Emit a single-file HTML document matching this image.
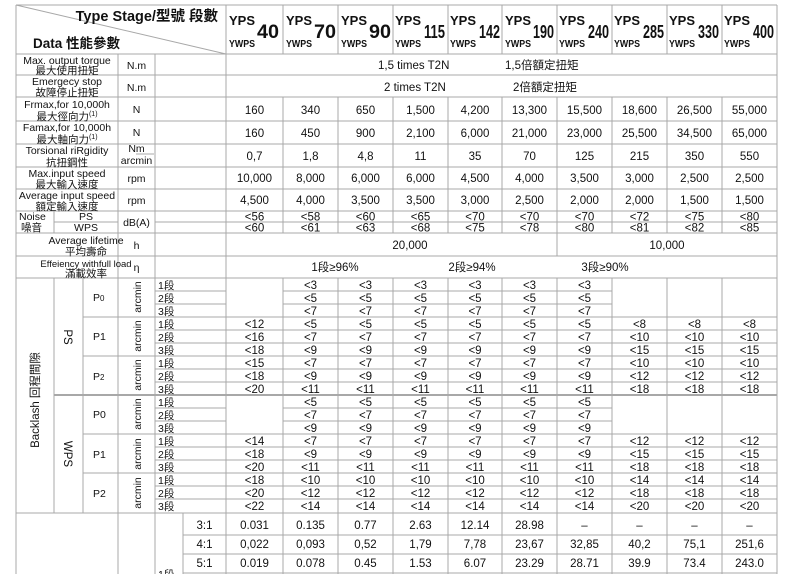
<!DOCTYPE html>
<html><head><meta charset="utf-8"><style>
html,body{margin:0;padding:0;background:#fff;width:800px;height:574px;overflow:hidden}
svg{display:block}
text{font-family:"Liberation Sans","Noto Sans CJK TC",sans-serif;fill:#111}
.d{font-size:11.5px;text-anchor:middle}
.l{font-size:10.5px;text-anchor:middle}
.s{font-size:10.5px}
</style></head><body>
<svg width="800" height="574" viewBox="0 0 800 574" xmlns="http://www.w3.org/2000/svg">
<g stroke="#a8a8a8" stroke-width="1" fill="none">
<line x1="16" y1="5" x2="16" y2="574"/>
<line x1="16" y1="5" x2="777" y2="5"/>
<line x1="777" y1="5" x2="777" y2="574"/>
<line x1="226" y1="5" x2="226" y2="574"/>
<line x1="118" y1="54" x2="118" y2="574"/>
<line x1="155" y1="54" x2="155" y2="574"/>
<line x1="16" y1="5" x2="226" y2="54"/>
<line x1="16" y1="54" x2="777" y2="54"/>
<line x1="16" y1="75" x2="777" y2="75"/>
<line x1="16" y1="97" x2="777" y2="97"/>
<line x1="16" y1="121" x2="777" y2="121"/>
<line x1="16" y1="144" x2="777" y2="144"/>
<line x1="16" y1="167" x2="777" y2="167"/>
<line x1="16" y1="189" x2="777" y2="189"/>
<line x1="16" y1="211" x2="777" y2="211"/>
<line x1="54" y1="222" x2="118" y2="222"/>
<line x1="155" y1="222" x2="777" y2="222"/>
<line x1="16" y1="233" x2="777" y2="233"/>
<line x1="16" y1="256" x2="777" y2="256"/>
<line x1="16" y1="278" x2="777" y2="278"/>
<line x1="54" y1="211" x2="54" y2="233"/>
<line x1="557" y1="233" x2="557" y2="256"/>
<path d="M283 5V54M338 5V54M393 5V54M448 5V54M502 5V54M557 5V54M612 5V54M667 5V54M722 5V54"/>
<path d="M283 97V233M338 97V233M393 97V233M448 97V233M502 97V233M557 97V233M612 97V233M667 97V233M722 97V233"/>
<path d="M283 278V574M338 278V574M393 278V574M448 278V574M502 278V574M557 278V574M612 278V574M667 278V574M722 278V574"/>
<line x1="136" y1="154" x2="154" y2="154"/>
<line x1="54" y1="278" x2="54" y2="513"/>
<line x1="83" y1="278" x2="83" y2="513"/>
<path d="M155 291H226M283 291H612M155 304H226M283 304H612"/>
<path d="M83 317H777M155 330H777M155 343H777M83 356H777M155 369H777M155 382H777"/>
<path d="M155 408H226M283 408H612M155 421H226M283 421H612"/>
<path d="M83 434H777M155 447H777M155 460H777M83 473H777M155 486H777M155 499H777"/>
<line x1="16" y1="513" x2="777" y2="513"/>
<line x1="183" y1="513" x2="183" y2="574"/>
<path d="M183 535H777M183 554H777M183 573H777"/>
</g>
<line x1="54" y1="395" x2="777" y2="395" stroke="#a8a8a8" stroke-width="2"/>

<text x="218" y="21" style="font-size:14.5px;font-weight:bold" text-anchor="end">Type Stage/型號 段數</text>
<text x="33" y="48" style="font-size:13.5px;font-weight:bold">Data 性能參數</text>
<g font-weight="bold">
<text x="229" y="25" style="font-size:13px">YPS</text><text x="229" y="47" style="font-size:10.5px" textLength="26" lengthAdjust="spacingAndGlyphs">YWPS</text><text x="257" y="38" style="font-size:19px" textLength="22" lengthAdjust="spacingAndGlyphs">40</text>
<text x="286" y="25" style="font-size:13px">YPS</text><text x="286" y="47" style="font-size:10.5px" textLength="26" lengthAdjust="spacingAndGlyphs">YWPS</text><text x="314" y="38" style="font-size:19px" textLength="22" lengthAdjust="spacingAndGlyphs">70</text>
<text x="341" y="25" style="font-size:13px">YPS</text><text x="341" y="47" style="font-size:10.5px" textLength="26" lengthAdjust="spacingAndGlyphs">YWPS</text><text x="369" y="38" style="font-size:19px" textLength="22" lengthAdjust="spacingAndGlyphs">90</text>
<text x="395" y="25" style="font-size:13px">YPS</text><text x="395" y="47" style="font-size:10.5px" textLength="26" lengthAdjust="spacingAndGlyphs">YWPS</text><text x="424" y="38" style="font-size:18px" textLength="21" lengthAdjust="spacingAndGlyphs">115</text>
<text x="450" y="25" style="font-size:13px">YPS</text><text x="450" y="47" style="font-size:10.5px" textLength="26" lengthAdjust="spacingAndGlyphs">YWPS</text><text x="479" y="38" style="font-size:18px" textLength="21" lengthAdjust="spacingAndGlyphs">142</text>
<text x="505" y="25" style="font-size:13px">YPS</text><text x="505" y="47" style="font-size:10.5px" textLength="26" lengthAdjust="spacingAndGlyphs">YWPS</text><text x="533" y="38" style="font-size:18px" textLength="21" lengthAdjust="spacingAndGlyphs">190</text>
<text x="559" y="25" style="font-size:13px">YPS</text><text x="559" y="47" style="font-size:10.5px" textLength="26" lengthAdjust="spacingAndGlyphs">YWPS</text><text x="588" y="38" style="font-size:18px" textLength="21" lengthAdjust="spacingAndGlyphs">240</text>
<text x="614" y="25" style="font-size:13px">YPS</text><text x="614" y="47" style="font-size:10.5px" textLength="26" lengthAdjust="spacingAndGlyphs">YWPS</text><text x="643" y="38" style="font-size:18px" textLength="21" lengthAdjust="spacingAndGlyphs">285</text>
<text x="669" y="25" style="font-size:13px">YPS</text><text x="669" y="47" style="font-size:10.5px" textLength="26" lengthAdjust="spacingAndGlyphs">YWPS</text><text x="698" y="38" style="font-size:18px" textLength="21" lengthAdjust="spacingAndGlyphs">330</text>
<text x="724" y="25" style="font-size:13px">YPS</text><text x="724" y="47" style="font-size:10.5px" textLength="26" lengthAdjust="spacingAndGlyphs">YWPS</text><text x="753" y="38" style="font-size:18px" textLength="21" lengthAdjust="spacingAndGlyphs">400</text>
</g>

<text class="l" x="67" y="64">Max. output torque</text><text class="l" x="67" y="74">最大使用扭矩</text>
<text class="l" x="67" y="85">Emergecy stop</text><text class="l" x="67" y="96">故障停止扭矩</text>
<text class="l" x="67" y="108">Frmax,for 10,000h</text><text class="l" x="67" y="120">最大徑向力<tspan font-size="7" dy="-4">(1)</tspan></text>
<text class="l" x="67" y="131">Famax,for 10,000h</text><text class="l" x="67" y="143">最大軸向力<tspan font-size="7" dy="-4">(1)</tspan></text>
<text class="l" x="67" y="154">Torsional riRgidity</text><text class="l" x="67" y="166">抗扭鋼性</text>
<text class="l" x="67" y="177">Max.input speed</text><text class="l" x="67" y="188">最大輸入速度</text>
<text class="l" x="67" y="199">Average input speed</text><text class="l" x="67" y="210">額定輸入速度</text>
<text class="s" x="19" y="220">Noise</text><text class="s" x="21" y="231">噪音</text>
<text class="l" x="86" y="220">PS</text><text class="l" x="86" y="231">WPS</text>
<text class="l" x="86" y="244">Average lifetime</text><text class="l" x="86" y="255">平均壽命</text>
<text class="l" x="86" y="267" style="font-size:9.5px">Effeiency withfull load</text><text class="l" x="86" y="277">滿載效率</text>

<text class="l" x="136.5" y="69">N.m</text>
<text class="l" x="136.5" y="91">N.m</text>
<text class="l" x="136.5" y="113">N</text>
<text class="l" x="136.5" y="136">N</text>
<text class="l" x="136.5" y="152">Nm</text><text class="l" x="136.5" y="164">arcmin</text>
<text class="l" x="136.5" y="182">rpm</text>
<text class="l" x="136.5" y="204">rpm</text>
<text class="l" x="136.5" y="226">dB(A)</text>
<text class="l" x="136.5" y="249">h</text>
<text class="l" x="136.5" y="271">η</text>

<text x="378" y="69" style="font-size:11.5px">1,5 times T2N</text><text x="505" y="69" style="font-size:11.5px">1,5倍額定扭矩</text>
<text x="384" y="91" style="font-size:11.5px">2 times T2N</text><text x="513" y="91" style="font-size:11.5px">2倍額定扭矩</text>
<text class="d" x="410" y="249">20,000</text><text class="d" x="667" y="249">10,000</text>
<text class="d" x="335" y="271">1段≥96%</text><text class="d" x="472" y="271">2段≥94%</text><text class="d" x="605" y="271">3段≥90%</text>

<g>
<text class="d" x="254.5" y="114">160</text><text class="d" x="310.5" y="114">340</text><text class="d" x="365.5" y="114">650</text><text class="d" x="420.5" y="114">1,500</text><text class="d" x="475" y="114">4,200</text><text class="d" x="529.5" y="114">13,300</text><text class="d" x="584.5" y="114">15,500</text><text class="d" x="639.5" y="114">18,600</text><text class="d" x="694.5" y="114">26,500</text><text class="d" x="749.5" y="114">55,000</text>
<text class="d" x="254.5" y="137">160</text><text class="d" x="310.5" y="137">450</text><text class="d" x="365.5" y="137">900</text><text class="d" x="420.5" y="137">2,100</text><text class="d" x="475" y="137">6,000</text><text class="d" x="529.5" y="137">21,000</text><text class="d" x="584.5" y="137">23,000</text><text class="d" x="639.5" y="137">25,500</text><text class="d" x="694.5" y="137">34,500</text><text class="d" x="749.5" y="137">65,000</text>
<text class="d" x="254.5" y="160">0,7</text><text class="d" x="310.5" y="160">1,8</text><text class="d" x="365.5" y="160">4,8</text><text class="d" x="420.5" y="160">11</text><text class="d" x="475" y="160">35</text><text class="d" x="529.5" y="160">70</text><text class="d" x="584.5" y="160">125</text><text class="d" x="639.5" y="160">215</text><text class="d" x="694.5" y="160">350</text><text class="d" x="749.5" y="160">550</text>
<text class="d" x="254.5" y="182">10,000</text><text class="d" x="310.5" y="182">8,000</text><text class="d" x="365.5" y="182">6,000</text><text class="d" x="420.5" y="182">6,000</text><text class="d" x="475" y="182">4,500</text><text class="d" x="529.5" y="182">4,000</text><text class="d" x="584.5" y="182">3,500</text><text class="d" x="639.5" y="182">3,000</text><text class="d" x="694.5" y="182">2,500</text><text class="d" x="749.5" y="182">2,500</text>
<text class="d" x="254.5" y="204">4,500</text><text class="d" x="310.5" y="204">4,000</text><text class="d" x="365.5" y="204">3,500</text><text class="d" x="420.5" y="204">3,500</text><text class="d" x="475" y="204">3,000</text><text class="d" x="529.5" y="204">2,500</text><text class="d" x="584.5" y="204">2,000</text><text class="d" x="639.5" y="204">2,000</text><text class="d" x="694.5" y="204">1,500</text><text class="d" x="749.5" y="204">1,500</text>
<text class="d" x="254.5" y="220.5">&lt;56</text><text class="d" x="310.5" y="220.5">&lt;58</text><text class="d" x="365.5" y="220.5">&lt;60</text><text class="d" x="420.5" y="220.5">&lt;65</text><text class="d" x="475" y="220.5">&lt;70</text><text class="d" x="529.5" y="220.5">&lt;70</text><text class="d" x="584.5" y="220.5">&lt;70</text><text class="d" x="639.5" y="220.5">&lt;72</text><text class="d" x="694.5" y="220.5">&lt;75</text><text class="d" x="749.5" y="220.5">&lt;80</text>
<text class="d" x="254.5" y="231.5">&lt;60</text><text class="d" x="310.5" y="231.5">&lt;61</text><text class="d" x="365.5" y="231.5">&lt;63</text><text class="d" x="420.5" y="231.5">&lt;68</text><text class="d" x="475" y="231.5">&lt;75</text><text class="d" x="529.5" y="231.5">&lt;78</text><text class="d" x="584.5" y="231.5">&lt;80</text><text class="d" x="639.5" y="231.5">&lt;81</text><text class="d" x="694.5" y="231.5">&lt;82</text><text class="d" x="749.5" y="231.5">&lt;85</text>
</g>

<text class="l" style="font-size:11.5px" transform="translate(39,400) rotate(-90)">Backlash 回程間隙</text>
<text class="l" style="font-size:11.5px" transform="translate(64,337) rotate(90)">PS</text>
<text class="l" style="font-size:11.5px" transform="translate(64,454) rotate(90)">WPS</text>
<text class="s" x="93" y="301">P<tspan font-size="8">0</tspan></text>
<text class="s" x="93" y="340">P1</text>
<text class="s" x="93" y="380">P<tspan font-size="8">2</tspan></text>
<text class="s" x="93" y="418">P0</text>
<text class="s" x="93" y="458">P1</text>
<text class="s" x="93" y="497">P2</text>
<text class="l" transform="translate(141,297) rotate(-90)">arcmin</text>
<text class="l" transform="translate(141,336) rotate(-90)">arcmin</text>
<text class="l" transform="translate(141,375) rotate(-90)">arcmin</text>
<text class="l" transform="translate(141,414) rotate(-90)">arcmin</text>
<text class="l" transform="translate(141,454) rotate(-90)">arcmin</text>
<text class="l" transform="translate(141,493) rotate(-90)">arcmin</text>
<g>
<text class="s" x="158" y="289">1段</text><text class="s" x="158" y="302">2段</text><text class="s" x="158" y="315">3段</text>
<text class="s" x="158" y="328">1段</text><text class="s" x="158" y="341">2段</text><text class="s" x="158" y="354">3段</text>
<text class="s" x="158" y="367">1段</text><text class="s" x="158" y="380">2段</text><text class="s" x="158" y="393">3段</text>
<text class="s" x="158" y="406">1段</text><text class="s" x="158" y="419">2段</text><text class="s" x="158" y="432">3段</text>
<text class="s" x="158" y="445">1段</text><text class="s" x="158" y="458">2段</text><text class="s" x="158" y="471">3段</text>
<text class="s" x="158" y="484">1段</text><text class="s" x="158" y="497">2段</text><text class="s" x="158" y="510">3段</text>
</g>

<g>
<text class="d" x="310.5" y="289">&lt;3</text><text class="d" x="365.5" y="289">&lt;3</text><text class="d" x="420.5" y="289">&lt;3</text><text class="d" x="475" y="289">&lt;3</text><text class="d" x="529.5" y="289">&lt;3</text><text class="d" x="584.5" y="289">&lt;3</text>
<text class="d" x="310.5" y="302">&lt;5</text><text class="d" x="365.5" y="302">&lt;5</text><text class="d" x="420.5" y="302">&lt;5</text><text class="d" x="475" y="302">&lt;5</text><text class="d" x="529.5" y="302">&lt;5</text><text class="d" x="584.5" y="302">&lt;5</text>
<text class="d" x="310.5" y="315">&lt;7</text><text class="d" x="365.5" y="315">&lt;7</text><text class="d" x="420.5" y="315">&lt;7</text><text class="d" x="475" y="315">&lt;7</text><text class="d" x="529.5" y="315">&lt;7</text><text class="d" x="584.5" y="315">&lt;7</text>
<text class="d" x="254.5" y="328">&lt;12</text><text class="d" x="310.5" y="328">&lt;5</text><text class="d" x="365.5" y="328">&lt;5</text><text class="d" x="420.5" y="328">&lt;5</text><text class="d" x="475" y="328">&lt;5</text><text class="d" x="529.5" y="328">&lt;5</text><text class="d" x="584.5" y="328">&lt;5</text><text class="d" x="639.5" y="328">&lt;8</text><text class="d" x="694.5" y="328">&lt;8</text><text class="d" x="749.5" y="328">&lt;8</text>
<text class="d" x="254.5" y="341">&lt;16</text><text class="d" x="310.5" y="341">&lt;7</text><text class="d" x="365.5" y="341">&lt;7</text><text class="d" x="420.5" y="341">&lt;7</text><text class="d" x="475" y="341">&lt;7</text><text class="d" x="529.5" y="341">&lt;7</text><text class="d" x="584.5" y="341">&lt;7</text><text class="d" x="639.5" y="341">&lt;10</text><text class="d" x="694.5" y="341">&lt;10</text><text class="d" x="749.5" y="341">&lt;10</text>
<text class="d" x="254.5" y="354">&lt;18</text><text class="d" x="310.5" y="354">&lt;9</text><text class="d" x="365.5" y="354">&lt;9</text><text class="d" x="420.5" y="354">&lt;9</text><text class="d" x="475" y="354">&lt;9</text><text class="d" x="529.5" y="354">&lt;9</text><text class="d" x="584.5" y="354">&lt;9</text><text class="d" x="639.5" y="354">&lt;15</text><text class="d" x="694.5" y="354">&lt;15</text><text class="d" x="749.5" y="354">&lt;15</text>
<text class="d" x="254.5" y="367">&lt;15</text><text class="d" x="310.5" y="367">&lt;7</text><text class="d" x="365.5" y="367">&lt;7</text><text class="d" x="420.5" y="367">&lt;7</text><text class="d" x="475" y="367">&lt;7</text><text class="d" x="529.5" y="367">&lt;7</text><text class="d" x="584.5" y="367">&lt;7</text><text class="d" x="639.5" y="367">&lt;10</text><text class="d" x="694.5" y="367">&lt;10</text><text class="d" x="749.5" y="367">&lt;10</text>
<text class="d" x="254.5" y="380">&lt;18</text><text class="d" x="310.5" y="380">&lt;9</text><text class="d" x="365.5" y="380">&lt;9</text><text class="d" x="420.5" y="380">&lt;9</text><text class="d" x="475" y="380">&lt;9</text><text class="d" x="529.5" y="380">&lt;9</text><text class="d" x="584.5" y="380">&lt;9</text><text class="d" x="639.5" y="380">&lt;12</text><text class="d" x="694.5" y="380">&lt;12</text><text class="d" x="749.5" y="380">&lt;12</text>
<text class="d" x="254.5" y="393">&lt;20</text><text class="d" x="310.5" y="393">&lt;11</text><text class="d" x="365.5" y="393">&lt;11</text><text class="d" x="420.5" y="393">&lt;11</text><text class="d" x="475" y="393">&lt;11</text><text class="d" x="529.5" y="393">&lt;11</text><text class="d" x="584.5" y="393">&lt;11</text><text class="d" x="639.5" y="393">&lt;18</text><text class="d" x="694.5" y="393">&lt;18</text><text class="d" x="749.5" y="393">&lt;18</text>
</g>

<g>
<text class="d" x="310.5" y="406">&lt;5</text><text class="d" x="365.5" y="406">&lt;5</text><text class="d" x="420.5" y="406">&lt;5</text><text class="d" x="475" y="406">&lt;5</text><text class="d" x="529.5" y="406">&lt;5</text><text class="d" x="584.5" y="406">&lt;5</text>
<text class="d" x="310.5" y="419">&lt;7</text><text class="d" x="365.5" y="419">&lt;7</text><text class="d" x="420.5" y="419">&lt;7</text><text class="d" x="475" y="419">&lt;7</text><text class="d" x="529.5" y="419">&lt;7</text><text class="d" x="584.5" y="419">&lt;7</text>
<text class="d" x="310.5" y="432">&lt;9</text><text class="d" x="365.5" y="432">&lt;9</text><text class="d" x="420.5" y="432">&lt;9</text><text class="d" x="475" y="432">&lt;9</text><text class="d" x="529.5" y="432">&lt;9</text><text class="d" x="584.5" y="432">&lt;9</text>
<text class="d" x="254.5" y="445">&lt;14</text><text class="d" x="310.5" y="445">&lt;7</text><text class="d" x="365.5" y="445">&lt;7</text><text class="d" x="420.5" y="445">&lt;7</text><text class="d" x="475" y="445">&lt;7</text><text class="d" x="529.5" y="445">&lt;7</text><text class="d" x="584.5" y="445">&lt;7</text><text class="d" x="639.5" y="445">&lt;12</text><text class="d" x="694.5" y="445">&lt;12</text><text class="d" x="749.5" y="445">&lt;12</text>
<text class="d" x="254.5" y="458">&lt;18</text><text class="d" x="310.5" y="458">&lt;9</text><text class="d" x="365.5" y="458">&lt;9</text><text class="d" x="420.5" y="458">&lt;9</text><text class="d" x="475" y="458">&lt;9</text><text class="d" x="529.5" y="458">&lt;9</text><text class="d" x="584.5" y="458">&lt;9</text><text class="d" x="639.5" y="458">&lt;15</text><text class="d" x="694.5" y="458">&lt;15</text><text class="d" x="749.5" y="458">&lt;15</text>
<text class="d" x="254.5" y="471">&lt;20</text><text class="d" x="310.5" y="471">&lt;11</text><text class="d" x="365.5" y="471">&lt;11</text><text class="d" x="420.5" y="471">&lt;11</text><text class="d" x="475" y="471">&lt;11</text><text class="d" x="529.5" y="471">&lt;11</text><text class="d" x="584.5" y="471">&lt;11</text><text class="d" x="639.5" y="471">&lt;18</text><text class="d" x="694.5" y="471">&lt;18</text><text class="d" x="749.5" y="471">&lt;18</text>
<text class="d" x="254.5" y="484">&lt;18</text><text class="d" x="310.5" y="484">&lt;10</text><text class="d" x="365.5" y="484">&lt;10</text><text class="d" x="420.5" y="484">&lt;10</text><text class="d" x="475" y="484">&lt;10</text><text class="d" x="529.5" y="484">&lt;10</text><text class="d" x="584.5" y="484">&lt;10</text><text class="d" x="639.5" y="484">&lt;14</text><text class="d" x="694.5" y="484">&lt;14</text><text class="d" x="749.5" y="484">&lt;14</text>
<text class="d" x="254.5" y="497">&lt;20</text><text class="d" x="310.5" y="497">&lt;12</text><text class="d" x="365.5" y="497">&lt;12</text><text class="d" x="420.5" y="497">&lt;12</text><text class="d" x="475" y="497">&lt;12</text><text class="d" x="529.5" y="497">&lt;12</text><text class="d" x="584.5" y="497">&lt;12</text><text class="d" x="639.5" y="497">&lt;18</text><text class="d" x="694.5" y="497">&lt;18</text><text class="d" x="749.5" y="497">&lt;18</text>
<text class="d" x="254.5" y="510">&lt;22</text><text class="d" x="310.5" y="510">&lt;14</text><text class="d" x="365.5" y="510">&lt;14</text><text class="d" x="420.5" y="510">&lt;14</text><text class="d" x="475" y="510">&lt;14</text><text class="d" x="529.5" y="510">&lt;14</text><text class="d" x="584.5" y="510">&lt;14</text><text class="d" x="639.5" y="510">&lt;20</text><text class="d" x="694.5" y="510">&lt;20</text><text class="d" x="749.5" y="510">&lt;20</text>
</g>

<text class="d" x="204.5" y="529">3:1</text><text class="d" x="204.5" y="548">4:1</text><text class="d" x="204.5" y="567">5:1</text>
<text class="s" x="158" y="578">1段</text>
<text class="d" x="254.5" y="529">0.031</text><text class="d" x="310.5" y="529">0.135</text><text class="d" x="365.5" y="529">0.77</text><text class="d" x="420.5" y="529">2.63</text><text class="d" x="475" y="529">12.14</text><text class="d" x="529.5" y="529">28.98</text><text class="d" x="584.5" y="529">–</text><text class="d" x="639.5" y="529">–</text><text class="d" x="694.5" y="529">–</text><text class="d" x="749.5" y="529">–</text>
<text class="d" x="254.5" y="548">0,022</text><text class="d" x="310.5" y="548">0,093</text><text class="d" x="365.5" y="548">0,52</text><text class="d" x="420.5" y="548">1,79</text><text class="d" x="475" y="548">7,78</text><text class="d" x="529.5" y="548">23,67</text><text class="d" x="584.5" y="548">32,85</text><text class="d" x="639.5" y="548">40,2</text><text class="d" x="694.5" y="548">75,1</text><text class="d" x="749.5" y="548">251,6</text>
<text class="d" x="254.5" y="567">0.019</text><text class="d" x="310.5" y="567">0.078</text><text class="d" x="365.5" y="567">0.45</text><text class="d" x="420.5" y="567">1.53</text><text class="d" x="475" y="567">6.07</text><text class="d" x="529.5" y="567">23.29</text><text class="d" x="584.5" y="567">28.71</text><text class="d" x="639.5" y="567">39.9</text><text class="d" x="694.5" y="567">73.4</text><text class="d" x="749.5" y="567">243.0</text>
</svg>
</body></html>
